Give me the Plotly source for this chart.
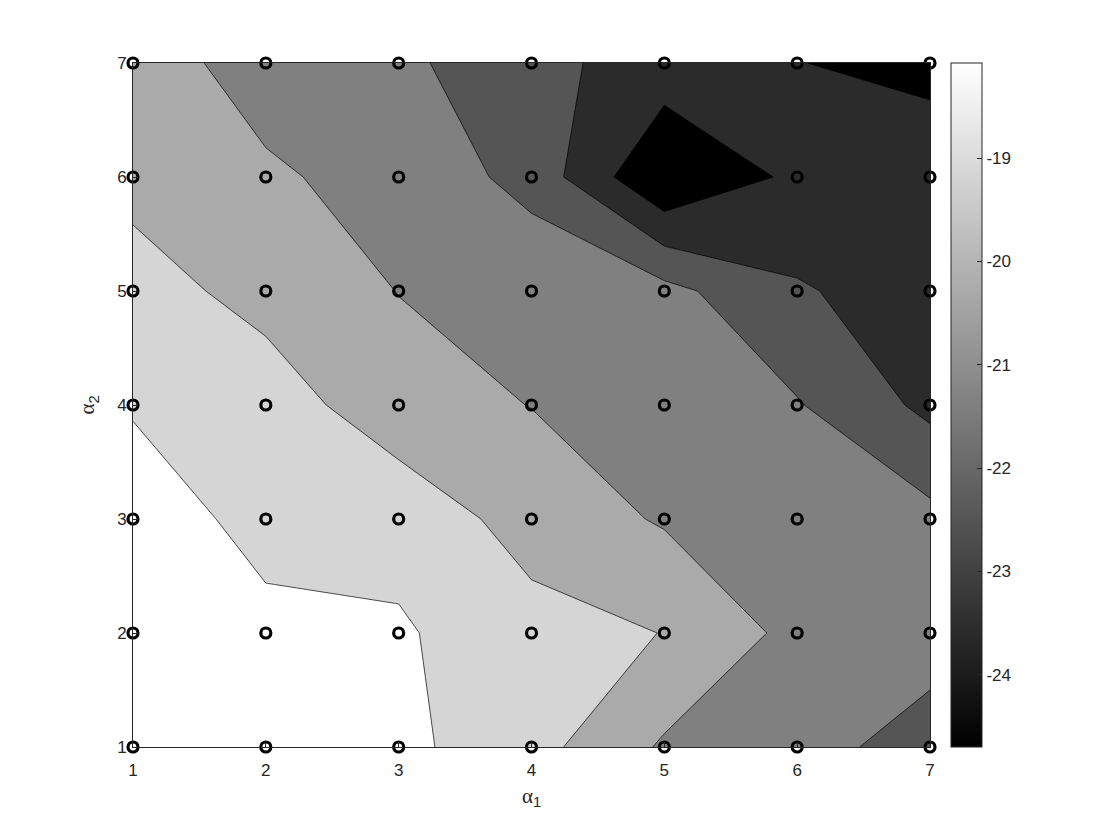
import plotly.graph_objects as go

# grid (alpha_1 along x, alpha_2 along y)
alpha1 = [1, 2, 3, 4, 5, 6, 7]
alpha2 = [1, 2, 3, 4, 5, 6, 7]

# z values, one row per alpha_2 value, columns are alpha_1 = 1..7
z_a2_1 = [-18.08, -18.50, -18.76, -19.64, -21.13, -21.60, -22.45]
z_a2_2 = [-18.30, -18.86, -18.88, -19.65, -20.02, -21.29, -21.55]
z_a2_3 = [-18.70, -19.18, -19.35, -20.40, -21.10, -21.50, -21.72]
z_a2_4 = [-19.05, -19.50, -20.60, -21.02, -21.40, -21.93, -23.25]
z_a2_5 = [-19.60, -20.33, -21.02, -21.23, -21.70, -22.90, -23.49]
z_a2_6 = [-20.29, -20.91, -21.23, -22.36, -25.00, -23.78, -23.50]
z_a2_7 = [-20.70, -21.26, -21.77, -22.74, -23.41, -23.98, -24.24]

levels = [-24, -23, -22, -21, -20, -19]
cbar_ticks = [-24, -23, -22, -21, -20, -19]
cbar_min = -24.70
cbar_max = -18.08

z = [z_a2_1, z_a2_2, z_a2_3, z_a2_4, z_a2_5, z_a2_6, z_a2_7]

axis_col = '#262626'
gray = [[0, 'rgb(0,0,0)'], [1, 'rgb(255,255,255)']]

fig = go.Figure()

fig.add_trace(go.Contour(
    x=alpha1, y=alpha2, z=z,
    autocontour=False,
    contours=dict(start=levels[0], end=levels[-1], size=1, coloring='fill', showlines=True),
    colorscale=gray,
    line=dict(color='black', width=0.7, smoothing=0),
    showscale=False,
    hoverinfo='skip',
))

# sample points
px, py = [], []
for j, a2 in enumerate(alpha2):
    for i, a1 in enumerate(alpha1):
        px.append(a1)
        py.append(a2)

fig.add_trace(go.Scatter(
    x=px, y=py, mode='markers', cliponaxis=False,
    marker=dict(symbol='circle-open', size=10, color='black', line=dict(width=3.2, color='black')),
    showlegend=False, hoverinfo='skip',
))

# continuous colorbar like matlab
fig.add_trace(go.Scatter(
    x=[None, None], y=[None, None], mode='markers', showlegend=False,
    marker=dict(
        color=[cbar_min, cbar_max], cmin=cbar_min, cmax=cbar_max,
        colorscale=gray, showscale=True,
        colorbar=dict(
            x=1.0263, xanchor='left', xpad=0, y=0.5, yanchor='middle', ypad=0,
            len=1, lenmode='fraction', thickness=31,
            outlinewidth=1, outlinecolor=axis_col,
            tickvals=cbar_ticks, ticktext=[str(v) for v in cbar_ticks],
            ticks='inside', ticklen=5, tickcolor=axis_col,
            tickfont=dict(family='Liberation Sans', size=17, color=axis_col),
        ),
    ),
))

ax = dict(
    range=[1, 7], tickvals=alpha1, ticks='inside', ticklen=5, tickcolor=axis_col,
    showline=True, linecolor=axis_col, linewidth=1, mirror=True,
    showgrid=False, zeroline=False,
    tickfont=dict(family='Liberation Sans', size=17, color=axis_col),
)

# page has an 8px body margin, so the figure is a bit smaller than the window
fig.update_layout(
    width=1112, height=832,
    margin=dict(l=125, r=190, t=55, b=93, pad=0),
    paper_bgcolor='white', plot_bgcolor='white',
    xaxis=dict(ax, ticklabelstandoff=8,
               title=dict(text='<span style="font-family:Liberation Serif">α</span><sub>1</sub>',
                          font=dict(family='Liberation Sans', size=21, color=axis_col), standoff=8)),
    yaxis=dict(ax, ticklabelstandoff=2,
               title=dict(text='<span style="font-family:Liberation Serif">α</span><sub>2</sub>',
                          font=dict(family='Liberation Sans', size=21, color=axis_col), standoff=16)),
)

fig.write_html("out.html")
